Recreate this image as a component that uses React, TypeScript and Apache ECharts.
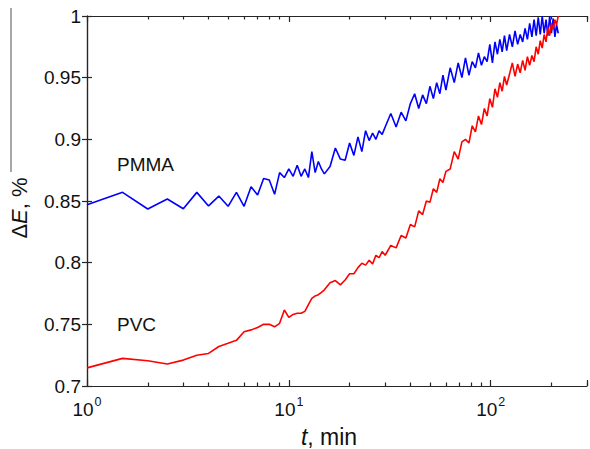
import React, { useEffect, useRef } from 'react';
import * as echarts from 'echarts';

// time, min
const TIME = [
  1, 1.5, 2, 2.5, 3, 3.5, 4, 4.5, 5, 5.5, 6, 6.5, 7, 7.5, 8, 8.5, 9, 9.5, 10,
  10.5, 11, 11.5, 12, 12.5, 13, 13.5, 14, 14.5, 15,
  16, 17, 18, 19, 20, 21, 22, 23, 24, 25, 26, 27, 28, 29, 30,
  32, 34, 36, 38, 40, 42, 44, 46, 48, 50, 52, 54, 56, 58, 60,
  63, 66, 69, 72, 75, 78, 81, 84, 87, 90, 93, 96, 99, 102, 105, 108, 111, 114, 117, 120,
  124, 128, 132, 136, 140, 144, 148, 152, 156, 160, 164, 168, 172, 176, 180, 184, 188, 192, 196, 200, 204, 208, 212, 216,
];

// ΔE, PMMA (blue)
const PMMA = [
  0.847, 0.857, 0.8435, 0.8516, 0.8437, 0.857, 0.846, 0.854, 0.8457, 0.857, 0.8457, 0.8616, 0.8548, 0.8683, 0.867, 0.8554, 0.873, 0.869, 0.876,
  0.870, 0.879, 0.870, 0.876, 0.869, 0.890, 0.873, 0.882, 0.876, 0.872,
  0.878, 0.893, 0.884, 0.883, 0.897, 0.887, 0.902, 0.890, 0.907, 0.899, 0.905, 0.900, 0.907, 0.904, 0.910,
  0.921, 0.910, 0.922, 0.915, 0.929, 0.937, 0.925, 0.936, 0.929, 0.943, 0.933, 0.946, 0.937, 0.952, 0.940,
  0.958, 0.946, 0.962, 0.950, 0.966, 0.952, 0.963, 0.958, 0.970, 0.960, 0.967, 0.963, 0.977, 0.962, 0.979, 0.969, 0.981, 0.971, 0.984, 0.972,
  0.985, 0.975, 0.988, 0.977, 0.985, 0.979, 0.990, 0.981, 0.994, 0.983, 0.997, 0.984, 0.999, 0.985, 1.0, 0.986, 0.997, 0.984, 1.0, 0.986, 0.998, 0.983, 0.993, 0.986,
];

// ΔE, PVC (red)
const PVC = [
  0.7147, 0.7224, 0.7205, 0.7178, 0.721, 0.725, 0.7264, 0.732, 0.7346, 0.737, 0.744, 0.7455, 0.7475, 0.750, 0.750, 0.748, 0.7508, 0.7616, 0.7556,
  0.758, 0.759, 0.759, 0.7605, 0.766, 0.771, 0.773, 0.774, 0.776, 0.778,
  0.7837, 0.7855, 0.782, 0.786, 0.791, 0.791, 0.796, 0.7995, 0.798, 0.802, 0.799, 0.806, 0.804, 0.809, 0.806,
  0.814, 0.812, 0.822, 0.820, 0.831, 0.829, 0.842, 0.839, 0.850, 0.849, 0.860, 0.857, 0.868, 0.865, 0.874,
  0.876, 0.890, 0.884, 0.898, 0.900, 0.897, 0.911, 0.906, 0.919, 0.912, 0.925, 0.919, 0.933, 0.926, 0.941, 0.934, 0.946, 0.939, 0.951, 0.944,
  0.953, 0.962, 0.951, 0.961, 0.954, 0.964, 0.956, 0.967, 0.960, 0.968, 0.963, 0.975, 0.969, 0.980, 0.974, 0.985, 0.979, 0.991, 0.984, 0.994, 0.989, 0.997, 0.993, 1.0,
];

const X_MIN = 1;
const X_MAX = 300;
const X_MINOR_TICKS = [2, 3, 4, 5, 6, 7, 8, 9, 20, 30, 40, 50, 60, 70, 80, 90, 200, 300];
const Y_MIN = 0.7;
const Y_MAX = 1;
const Y_STEP = 0.05;

const FONT = 'Liberation Sans, Arial, Helvetica, sans-serif';
const AXIS_COLOR = '#262626';
const TEXT_COLOR = '#111111';

export default function App() {
  const ref = useRef<HTMLDivElement>(null);

  useEffect(() => {
    if (!ref.current) return;
    const chart = echarts.init(ref.current, undefined, { renderer: 'svg' });

    const grid = { left: 87, top: 16, right: 2, bottom: 63 };
    const lineStyle = { color: AXIS_COLOR, width: 1.2 };
    const lgMin = Math.log10(X_MIN);
    const lgMax = Math.log10(X_MAX);
    const minorVals = X_MINOR_TICKS.map((v) => Math.log10(v));

    const supFormatter = (v: number) => {
      const e = Math.round(Math.log10(v));
      if (Math.abs(Math.pow(10, e) - v) > 1e-6) return '';
      return `{b|10}{s|${e}}`;
    };

    const option: any = {
      animation: false,
      grid,
      xAxis: [
        {
          type: 'log',
          logBase: 10,
          min: X_MIN,
          max: X_MAX,
          position: 'bottom',
          axisLine: { show: true, lineStyle },
          axisTick: { show: true, inside: true, length: 6, lineStyle },
          splitLine: { show: false },
          axisLabel: {
            show: true,
            margin: 9,
            formatter: supFormatter,
            color: TEXT_COLOR,
            fontFamily: FONT,
            rich: {
              b: { fontSize: 19, fontFamily: FONT, color: TEXT_COLOR, lineHeight: 24, verticalAlign: 'bottom' },
              s: { fontSize: 12.5, fontFamily: FONT, color: TEXT_COLOR, lineHeight: 12, verticalAlign: 'top', padding: [0, 0, 0, 1] },
            },
          },
        },
        {
          type: 'value',
          min: lgMin,
          max: lgMax,
          position: 'bottom',
          axisLine: { show: false },
          axisTick: { show: true, inside: true, length: 3.5, lineStyle, customValues: minorVals },
          axisLabel: { show: false },
          splitLine: { show: false },
        },
        {
          type: 'log',
          logBase: 10,
          min: X_MIN,
          max: X_MAX,
          position: 'top',
          axisLine: { show: true, lineStyle },
          axisTick: { show: true, inside: true, length: 6, lineStyle },
          axisLabel: { show: false },
          splitLine: { show: false },
        },
        {
          type: 'value',
          min: lgMin,
          max: lgMax,
          position: 'top',
          axisLine: { show: false },
          axisTick: { show: true, inside: true, length: 3.5, lineStyle, customValues: minorVals },
          axisLabel: { show: false },
          splitLine: { show: false },
        },
      ],
      yAxis: [
        {
          type: 'value',
          min: Y_MIN,
          max: Y_MAX,
          interval: Y_STEP,
          position: 'left',
          axisLine: { show: true, lineStyle },
          axisTick: { show: true, inside: true, length: 5, lineStyle },
          splitLine: { show: false },
          axisLabel: {
            margin: 6,
            color: TEXT_COLOR,
            fontSize: 19,
            fontFamily: FONT,
            formatter: (v: number) => String(parseFloat(v.toFixed(2))),
          },
        },
        {
          type: 'value',
          min: Y_MIN,
          max: Y_MAX,
          interval: Y_STEP,
          position: 'right',
          axisLine: { show: true, lineStyle },
          axisTick: { show: true, inside: true, length: 5, lineStyle },
          axisLabel: { show: false },
          splitLine: { show: false },
        },
      ],
      series: [
        {
          name: 'PMMA',
          type: 'line',
          xAxisIndex: 0,
          yAxisIndex: 0,
          showSymbol: false,
          clip: true,
          lineStyle: { color: '#0000ff', width: 1.6 },
          data: TIME.map((t, i) => [t, PMMA[i]]),
        },
        {
          name: 'PVC',
          type: 'line',
          xAxisIndex: 0,
          yAxisIndex: 0,
          showSymbol: false,
          clip: true,
          lineStyle: { color: '#ff0000', width: 1.6 },
          data: TIME.map((t, i) => [t, PVC[i]]),
        },
      ],
      graphic: [
        {
          type: 'line',
          shape: { x1: 11, y1: 8, x2: 11, y2: 172 },
          style: { stroke: '#8a8a8a', lineWidth: 1.5 },
        },
        {
          type: 'text',
          x: 117,
          y: 164,
          style: { text: 'PMMA', fontSize: 19, fontFamily: FONT, fill: TEXT_COLOR, align: 'left', verticalAlign: 'middle' },
        },
        {
          type: 'text',
          x: 117,
          y: 324.5,
          style: { text: 'PVC', fontSize: 19, fontFamily: FONT, fill: TEXT_COLOR, align: 'left', verticalAlign: 'middle' },
        },
        {
          type: 'text',
          x: 329,
          y: 437,
          style: {
            text: '{i|t}{n|, min}',
            align: 'center',
            verticalAlign: 'middle',
            rich: {
              i: { fontSize: 23, fontFamily: FONT, fontStyle: 'italic', fill: TEXT_COLOR },
              n: { fontSize: 23, fontFamily: FONT, fill: TEXT_COLOR },
            },
          },
        },
        {
          type: 'text',
          x: 19,
          y: 208,
          rotation: Math.PI / 2,
          style: {
            text: '{n|Δ}{i|E}{n|, %}',
            align: 'center',
            verticalAlign: 'middle',
            rich: {
              i: { fontSize: 22, fontFamily: FONT, fontStyle: 'italic', fill: TEXT_COLOR },
              n: { fontSize: 22, fontFamily: FONT, fill: TEXT_COLOR },
            },
          },
        },
      ],
    };

    chart.setOption(option);
    return () => chart.dispose();
  }, []);

  return (
    <div
      ref={ref}
      style={{ position: 'fixed', left: 0, top: 0, width: 590, height: 449, background: '#ffffff' }}
    />
  );
}
